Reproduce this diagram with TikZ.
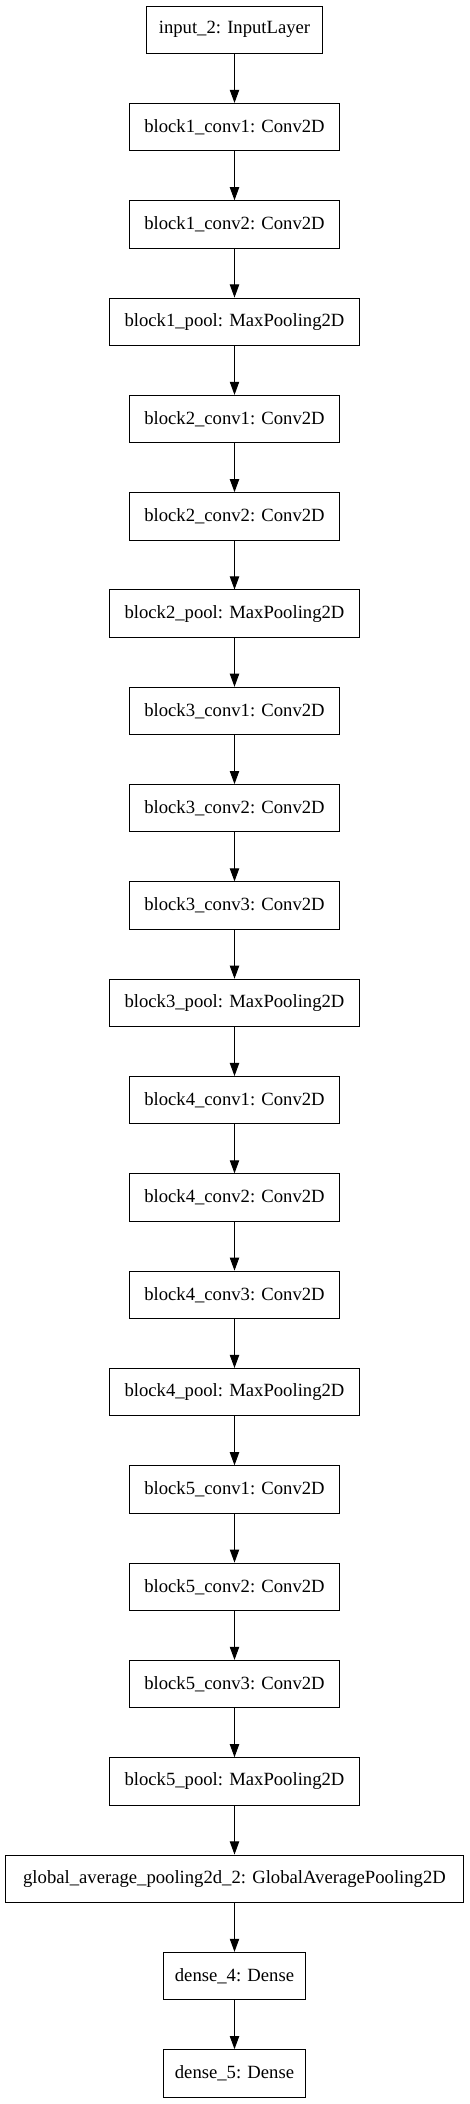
\documentclass[tikz,border=0pt]{standalone}
\usepackage{fontspec}
\setmainfont{Liberation Serif}
\usetikzlibrary{arrows.meta}
\begin{document}
\begin{tikzpicture}[x=0.75pt,y=-0.75pt,
  layer/.style={draw=black,line width=0.75pt,inner sep=0pt,minimum height=35.5pt,font=\fontsize{14pt}{16pt}\selectfont},
  inl/.style={layer,minimum width=132.5pt},
  conv/.style={layer,minimum width=157.5pt},
  pool/.style={layer,minimum width=187.5pt},
  gapl/.style={layer,minimum width=343.7pt},
  dens/.style={layer,minimum width=106.7pt},
  conn/.style={line width=0.75pt,-{Triangle[length=9.8pt,width=7pt]}}]
\useasboundingbox (0,0) rectangle (469,2104);
\def\cx{234.5}
\def\pitch{97.31}
\def\yy#1{29.8+\pitch*#1}
\node[inl]  (n0)  at (\cx,{\yy{0}})  {input\_2: InputLayer};
\node[conv] (n1)  at (\cx,{\yy{1}})  {block1\_conv1: Conv2D};
\node[conv] (n2)  at (\cx,{\yy{2}})  {block1\_conv2: Conv2D};
\node[pool] (n3)  at (\cx,{\yy{3}})  {block1\_pool: MaxPooling2D};
\node[conv] (n4)  at (\cx,{\yy{4}})  {block2\_conv1: Conv2D};
\node[conv] (n5)  at (\cx,{\yy{5}})  {block2\_conv2: Conv2D};
\node[pool] (n6)  at (\cx,{\yy{6}})  {block2\_pool: MaxPooling2D};
\node[conv] (n7)  at (\cx,{\yy{7}})  {block3\_conv1: Conv2D};
\node[conv] (n8)  at (\cx,{\yy{8}})  {block3\_conv2: Conv2D};
\node[conv] (n9)  at (\cx,{\yy{9}})  {block3\_conv3: Conv2D};
\node[pool] (n10) at (\cx,{\yy{10}}) {block3\_pool: MaxPooling2D};
\node[conv] (n11) at (\cx,{\yy{11}}) {block4\_conv1: Conv2D};
\node[conv] (n12) at (\cx,{\yy{12}}) {block4\_conv2: Conv2D};
\node[conv] (n13) at (\cx,{\yy{13}}) {block4\_conv3: Conv2D};
\node[pool] (n14) at (\cx,{\yy{14}}) {block4\_pool: MaxPooling2D};
\node[conv] (n15) at (\cx,{\yy{15}}) {block5\_conv1: Conv2D};
\node[conv] (n16) at (\cx,{\yy{16}}) {block5\_conv2: Conv2D};
\node[conv] (n17) at (\cx,{\yy{17}}) {block5\_conv3: Conv2D};
\node[pool] (n18) at (\cx,{\yy{18}}) {block5\_pool: MaxPooling2D};
\node[gapl] (n19) at (\cx,{\yy{19}}) {global\_average\_pooling2d\_2: GlobalAveragePooling2D};
\node[dens] (n20) at (\cx,{\yy{20}}) {dense\_4: Dense};
\node[dens] (n21) at (\cx,{\yy{21}}) {dense\_5: Dense};
\foreach \a/\b in {0/1,1/2,2/3,3/4,4/5,5/6,6/7,7/8,8/9,9/10,10/11,11/12,12/13,13/14,14/15,15/16,16/17,17/18,18/19,19/20,20/21}
  \draw[conn] (n\a) -- (n\b);
\end{tikzpicture}
\end{document}
